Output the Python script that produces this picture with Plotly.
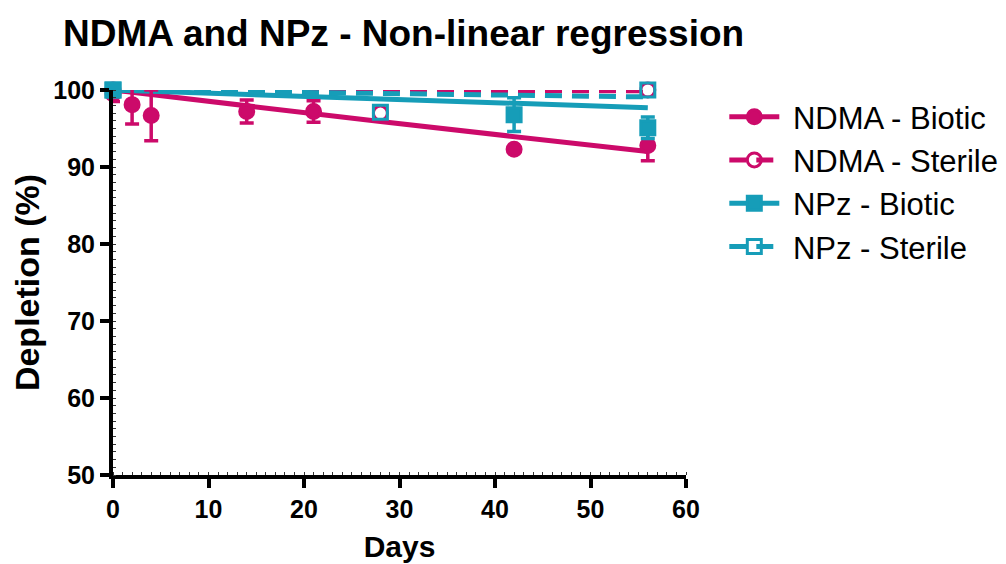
import plotly.graph_objects as go

MAGENTA = "#CC0A6A"
TEAL = "#169DB8"

# NDMA - Biotic
ndma_bio_days = [0, 2, 4, 14, 21, 42, 56]
ndma_bio_vals = [99.5, 98.1, 96.7, 97.2, 97.2, 92.3, 92.8]
ndma_bio_err = [1.0, 2.5, 3.3, 1.5, 1.4, 0.2, 2.0]
ndma_bio_fit_x = [0, 28, 56]
ndma_bio_fit_y = [100.0, 95.9, 92.0]

# NDMA - Sterile
ndma_ster_days = [0, 28, 56]
ndma_ster_vals = [100.0, 97.0, 100.0]
ndma_ster_fit_x = [0, 56]
ndma_ster_fit_y = [99.9, 99.9]

# NPz - Biotic
npz_bio_days = [0, 42, 56]
npz_bio_vals = [100.0, 96.8, 95.1]
npz_bio_err = [0.2, 2.2, 1.4]
npz_bio_fit_x = [0, 28, 56]
npz_bio_fit_y = [100.0, 98.8, 97.7]

# NPz - Sterile
npz_ster_days = [0, 28, 56]
npz_ster_vals = [100.0, 97.1, 100.0]
npz_ster_fit_x = [0, 56]
npz_ster_fit_y = [100.0, 99.1]

x_ticks = [0, 10, 20, 30, 40, 50, 60]
y_ticks = [50, 60, 70, 80, 90, 100]

fig = go.Figure()
LW = 5
DASH = "17px,10px"
MS = 14

series = [
    ("NDMA - Biotic", MAGENTA, "circle", "solid", ndma_bio_days, ndma_bio_vals, ndma_bio_err, ndma_bio_fit_x, ndma_bio_fit_y),
    ("NDMA - Sterile", MAGENTA, "circle-open", DASH, ndma_ster_days, ndma_ster_vals, None, ndma_ster_fit_x, ndma_ster_fit_y),
    ("NPz - Biotic", TEAL, "square", "solid", npz_bio_days, npz_bio_vals, npz_bio_err, npz_bio_fit_x, npz_bio_fit_y),
    ("NPz - Sterile", TEAL, "square-open", DASH, npz_ster_days, npz_ster_vals, None, npz_ster_fit_x, npz_ster_fit_y),
]

for name, col, sym, dash, dx, dy, de, fx, fy in series:
    fig.add_trace(go.Scatter(x=fx, y=fy, mode="lines", line=dict(color=col, width=LW, dash=dash),
                             showlegend=False, cliponaxis=False, hoverinfo="skip"))
for name, col, sym, dash, dx, dy, de, fx, fy in series:
    err = dict(type="data", array=de, visible=True, color=col, thickness=3.5, width=7) if de else None
    fig.add_trace(go.Scatter(x=dx, y=dy, mode="markers", name=name,
                             marker=dict(symbol=sym, size=MS, color=col, line=dict(color=col, width=3)),
                             error_y=err, showlegend=False, cliponaxis=False))
    fig.add_trace(go.Scatter(x=[None], y=[None], mode="lines+markers", name="\u00a0" + name,
                             line=dict(color=col, width=LW, dash=dash),
                             marker=dict(symbol=sym, size=MS, color=col, line=dict(color=col, width=3))))

# the page body has an 8px margin, so the figure starts at (8, 8) in the window
OFF = 8
axis_font = dict(family="Liberation Sans", size=25, color="black")
fig.update_layout(
    width=1006, height=564,
    margin=dict(l=113 - OFF, r=319 + OFF, t=90 - OFF, b=89 + OFF),
    plot_bgcolor="white", paper_bgcolor="white",
    title=dict(text="<b>NDMA and NPz - Non-linear regression</b>", x=(63 - OFF)/1006, xanchor="left",
               y=1-(33 - OFF)/564, yanchor="middle", xref="container", yref="container",
               font=dict(family="Liberation Sans", size=37, color="black")),
    xaxis=dict(range=[0, 60], tickvals=x_ticks, ticktext=[f"<b>{v}</b>" for v in x_ticks], automargin=False,
               showgrid=False, zeroline=False, showline=True, linecolor="black", linewidth=4,
               ticks="outside", ticklen=9, tickwidth=4, tickcolor="black", tickfont=axis_font,
               minor=dict(dtick=1, ticks="inside", ticklen=3, tickwidth=1, tickcolor="#333", showgrid=False),
               title=dict(text="<b>Days</b>", font=dict(family="Liberation Sans", size=30, color="black"), standoff=15)),
    yaxis=dict(range=[50, 100], tickvals=y_ticks, ticktext=[f"<b>{v}</b>" for v in y_ticks], automargin=False,
               showgrid=False, zeroline=False, showline=True, linecolor="black", linewidth=4,
               ticks="outside", ticklen=9, tickwidth=4, tickcolor="black", tickfont=axis_font,
               minor=dict(dtick=1, ticks="inside", ticklen=3, tickwidth=1, tickcolor="#333", showgrid=False),
               title=dict(text="<b>Depletion (%)</b>", font=dict(family="Liberation Sans", size=34, color="black"), standoff=6)),
    legend=dict(x=1.065, y=1.0, xanchor="left", yanchor="top", font=dict(family="Liberation Sans", size=31, color="black"),
                itemwidth=50, tracegroupgap=0, bgcolor="rgba(0,0,0,0)"),
)

fig.write_html("out.html")
